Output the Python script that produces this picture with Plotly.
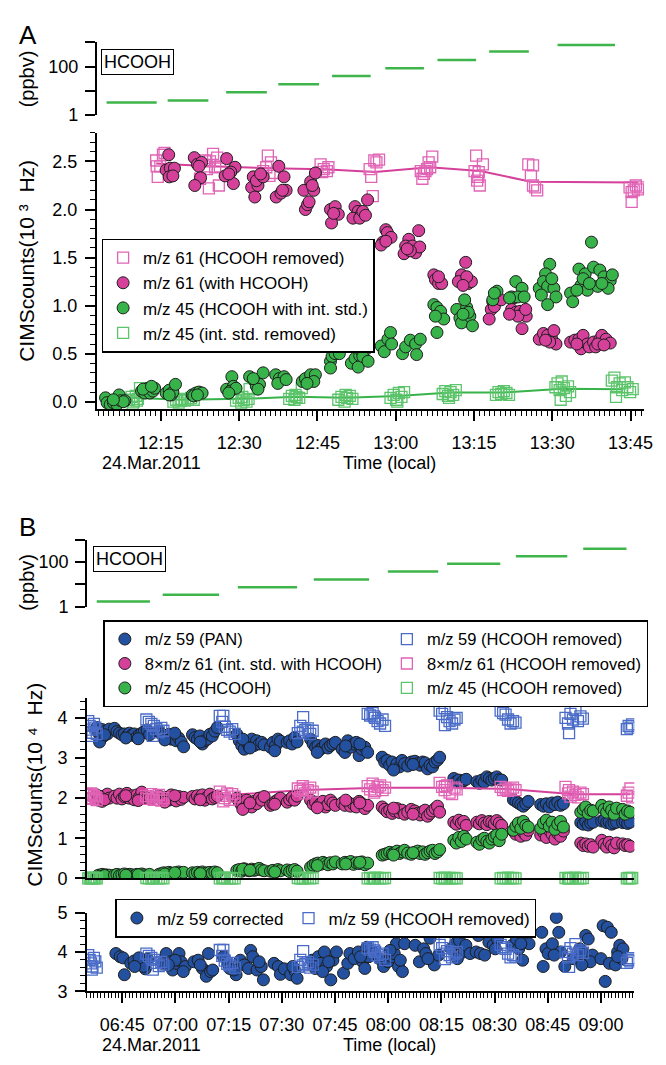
import pandas as pd
import plotly.graph_objects as go

W, H = 666, 1065
FONT = "Liberation Sans, Arial, sans-serif"

# ================= Panel A data (time in minutes after 12:00, 24 Mar 2011) =================
A_seg_start = [4.6, 16.3, 27.5, 37.5, 47.8, 58.0, 68.0, 77.9, 91.0]
A_seg_end = [14.2, 24.1, 35.3, 45.3, 55.2, 65.4, 75.4, 85.5, 102.0]
A_seg_ppbv = [3.3, 4.0, 8.6, 18.6, 40.6, 86, 186, 420, 776]

# m/z 61 (HCOOH removed): open squares + line through period means
A_m61rem_pts = [
    (14.1, 2.51), (14.4, 2.34), (14.9, 2.45), (15.4, 2.57), (15.7, 2.59), (14.2, 2.45),
    (22.5, 2.32), (23.5, 2.51), (23.8, 2.45), (24.2, 2.22), (24.4, 2.50), (25.0, 2.58),
    (25.4, 2.44), (25.8, 2.54), (26.1, 2.25), (26.3, 2.45), (23.8, 2.42),
    (34.6, 2.40), (35.2, 2.44), (35.5, 2.56), (35.8, 2.35), (36.1, 2.49), (36.6, 2.38),
    (45.6, 2.47), (45.9, 2.39), (46.2, 2.42), (46.8, 2.40), (47.1, 2.44),
    (55.0, 2.42), (55.3, 2.34), (55.6, 2.14), (55.9, 2.51), (56.3, 2.49), (56.8, 2.52),
    (64.8, 2.40), (65.1, 2.32), (65.4, 2.37), (65.7, 2.40), (66.0, 2.42), (66.3, 2.49),
    (66.6, 2.44), (67.0, 2.55),
    (75.1, 2.40), (75.4, 2.56), (75.6, 2.30), (75.8, 2.34), (75.9, 2.39), (76.1, 2.25), (76.7, 2.47),
    (85.4, 2.47), (85.9, 2.35), (86.3, 2.46), (86.3, 2.25), (86.7, 2.23), (87.1, 2.20),
    (104.8, 2.23), (105.2, 2.08), (105.2, 2.18), (105.6, 2.20), (106.0, 2.25), (106.4, 2.21), (106.8, 2.23),
]
A_m61line_t = [14.1, 24.5, 35.8, 46.3, 56.0, 66.5, 76.2, 85.9, 106.4]
A_m61line_v = [2.48, 2.45, 2.43, 2.42, 2.39, 2.44, 2.40, 2.29, 2.28]

# m/z 61 (with HCOOH): filled circles
A_m61_pts = [
    (16.5, 2.57), (16.0, 2.41), (16.8, 2.43), (17.6, 2.43), (16.6, 2.34), (17.3, 2.35),
    (21.4, 2.54), (22.0, 2.47), (22.8, 2.49), (22.3, 2.45), (22.6, 2.33), (21.5, 2.25),
    (27.6, 2.53), (29.2, 2.44), (28.4, 2.39), (27.3, 2.35), (28.9, 2.27), (28.0, 2.37),
    (32.7, 2.34), (32.4, 2.23), (33.0, 2.13), (33.6, 2.25), (33.3, 2.30), (34.6, 2.34), (34.1, 2.37),
    (37.6, 2.45), (38.6, 2.34), (37.1, 2.13), (38.0, 2.17), (39.0, 2.20), (38.3, 2.20),
    (42.4, 2.20), (42.7, 2.00), (43.1, 2.05), (43.4, 2.08), (43.7, 2.29), (44.3, 2.20), (44.6, 2.38), (44.0, 2.25),
    (47.5, 2.00), (48.4, 2.03), (49.0, 1.95), (47.7, 1.86), (48.1, 1.96),
    (52.2, 2.03), (52.8, 1.98), (51.8, 1.91), (53.4, 1.95), (53.1, 1.91), (53.7, 1.98), (54.6, 2.10), (54.2, 1.94),
    (58.1, 1.79), (58.4, 1.76), (59.1, 1.71), (57.5, 1.66), (57.2, 1.63), (58.1, 1.67),
    (64.4, 1.78), (62.5, 1.69), (61.9, 1.62), (61.6, 1.54), (63.2, 1.62), (63.8, 1.55), (64.6, 1.61), (62.8, 1.57), (62.2, 1.59),
    (67.3, 1.32), (67.6, 1.27), (68.2, 1.23), (68.8, 1.23), (68.2, 1.30),
    (73.4, 1.45), (72.6, 1.32), (72.0, 1.25), (73.9, 1.23), (74.5, 1.25), (73.6, 1.30), (72.9, 1.21),
    (78.6, 1.04), (79.2, 1.04), (78.3, 0.96), (77.9, 0.86), (78.9, 0.99), (80.2, 1.06),
    (82.6, 1.08), (82.2, 0.96), (83.0, 0.93), (83.8, 0.94), (84.6, 0.93), (85.0, 0.89), (84.2, 0.76),
    (83.4, 0.89), (81.8, 0.91), (84.9, 0.96),
    (87.5, 0.65), (88.3, 0.71), (89.1, 0.69), (89.9, 0.65), (90.3, 0.74), (90.7, 0.60), (89.5, 0.62), (88.7, 0.64),
    (93.5, 0.62), (94.3, 0.64), (95.1, 0.65), (95.9, 0.69), (95.5, 0.55), (96.7, 0.60), (97.1, 0.57),
    (97.9, 0.62), (98.3, 0.57), (99.1, 0.65), (99.5, 0.69), (100.3, 0.65), (101.1, 0.61), (94.7, 0.60),
    (98.7, 0.60), (99.9, 0.59),
]

# m/z 45 (HCOOH with int. std.): filled circles
A_m45_pts = [
    (4.4, 0.04), (4.7, -0.01), (5.3, -0.03), (5.9, -0.01), (6.6, -0.03), (7.0, 0.07), (7.3, 0.01), (8.1, 0.01), (7.8, 0.0), (5.9, 0.02),
    (11.3, 0.11), (11.9, 0.09), (12.5, 0.14), (12.9, 0.09), (13.5, 0.11), (13.8, 0.14), (11.6, 0.13), (13.2, 0.16),
    (16.0, 0.09), (16.6, 0.12), (17.0, 0.07), (17.3, 0.10), (17.8, 0.18), (16.6, 0.07),
    (21.0, 0.07), (21.7, 0.09), (22.3, 0.10), (22.9, 0.09), (21.3, 0.06), (22.0, 0.07),
    (27.6, 0.13), (28.6, 0.26), (28.9, 0.16), (28.3, 0.11), (29.4, 0.14), (28.0, 0.09),
    (32.0, 0.26), (33.0, 0.21), (33.3, 0.16), (33.9, 0.18), (34.6, 0.30), (33.6, 0.13), (32.7, 0.24),
    (37.0, 0.28), (37.7, 0.24), (38.6, 0.26), (37.4, 0.19), (39.0, 0.23),
    (42.1, 0.21), (42.7, 0.24), (43.7, 0.28), (44.6, 0.28), (44.3, 0.21), (43.0, 0.19),
    (47.5, 0.42), (47.8, 0.47), (48.4, 0.50), (49.2, 0.50), (47.5, 0.35),
    (51.5, 0.40), (52.2, 0.45), (53.1, 0.48), (52.8, 0.36), (53.4, 0.53), (54.4, 0.55), (53.7, 0.47), (54.7, 0.42),
    (57.2, 0.58), (57.8, 0.52), (58.5, 0.65), (59.0, 0.72), (59.2, 0.60),
    (61.3, 0.50), (61.9, 0.57), (62.8, 0.64), (63.8, 0.60), (64.7, 0.65), (64.0, 0.49),
    (67.3, 1.01), (67.9, 0.98), (68.6, 0.94), (69.2, 0.86), (67.6, 0.89), (67.9, 0.72),
    (71.7, 0.96), (72.3, 0.87), (72.6, 0.82), (73.6, 0.98), (73.2, 1.06), (74.2, 0.89), (74.7, 0.79), (73.9, 0.93), (72.9, 0.91),
    (79.4, 1.15), (78.6, 1.06), (78.9, 1.13),
    (83.0, 1.25), (84.2, 1.18), (82.2, 1.09), (83.4, 1.09), (84.6, 1.09), (81.8, 1.08),
    (89.5, 1.43), (88.7, 1.33), (87.5, 1.18), (88.3, 1.25), (89.1, 1.20), (90.3, 1.18), (87.9, 1.11), (90.7, 1.09), (89.1, 1.01), (89.9, 1.28),
    (97.5, 1.66), (93.5, 1.13), (93.9, 1.04), (95.1, 1.38), (95.5, 1.21), (96.3, 1.33), (96.7, 1.16), (95.9, 1.28),
    (97.9, 1.40), (98.7, 1.20), (99.1, 1.37), (99.9, 1.30), (100.3, 1.21), (101.1, 1.26), (101.5, 1.32),
    (100.7, 1.18), (97.1, 1.23), (94.7, 1.16), (99.5, 1.23),
]

# m/z 45 (int. std. removed): open squares + line
A_m45rem_pts = [
    (8.9, 0.02), (9.4, 0.05), (9.8, 0.0), (10.2, 0.06), (10.6, 0.03), (11.0, 0.14), (9.6, -0.02), (10.4, 0.01),
    (17.4, 0.0), (17.9, 0.02), (18.4, -0.01), (19.0, 0.03), (19.6, 0.01), (20.2, 0.02), (20.8, 0.04), (21.3, 0.02), (18.8, 0.01),
    (29.4, 0.01), (29.9, 0.04), (30.4, -0.01), (30.9, 0.02), (31.4, 0.0), (32.0, 0.13), (31.8, 0.03), (30.6, 0.05),
    (39.6, 0.03), (40.1, 0.06), (40.6, 0.02), (41.0, 0.05), (41.5, 0.04), (42.0, 0.14), (40.8, 0.07),
    (49.0, 0.02), (49.6, 0.05), (50.2, 0.0), (50.7, 0.04), (51.2, 0.06), (51.7, 0.03), (50.4, 0.07),
    (59.0, 0.04), (59.6, 0.07), (60.1, 0.02), (60.6, 0.09), (61.1, 0.05), (61.6, 0.10), (60.3, 0.0),
    (69.0, 0.08), (69.5, 0.11), (70.0, 0.06), (70.5, 0.10), (71.0, 0.07), (71.5, 0.12), (70.2, 0.04),
    (79.2, 0.07), (79.7, 0.10), (80.2, 0.08), (80.7, 0.11), (81.2, 0.09), (81.7, 0.07),
    (90.6, 0.15), (91.0, 0.19), (91.4, 0.12), (91.8, 0.21), (92.2, 0.14), (92.6, 0.06), (93.0, 0.16), (93.4, 0.10), (91.6, 0.02),
    (101.4, 0.22), (101.9, 0.25), (102.4, 0.15), (102.9, 0.19), (103.4, 0.12), (103.9, 0.20), (104.4, 0.15),
    (104.9, 0.10), (105.4, 0.13), (102.2, 0.05),
]
A_m45line_t = [9.3, 19.0, 30.7, 40.8, 50.4, 60.4, 70.5, 80.6, 91.9, 103.6]
A_m45line_v = [0.04, 0.02, 0.03, 0.05, 0.04, 0.06, 0.095, 0.095, 0.135, 0.13]

# ================= Panel B data (time in minutes after 06:00, 24 Mar 2011) =================
B_seg_start = [37.8, 56.4, 77.6, 99.0, 119.9, 136.6, 156.0, 175.0]
B_seg_end = [52.8, 72.3, 94.3, 114.6, 134.1, 151.6, 170.5, 187.2]
B_seg_ppbv = [1.7, 3.4, 7.4, 16.6, 37.4, 85, 183, 400]

# times of the ambient (with HCOOH) samples, shared by m/z 59, 8*m/z 61 and m/z 45
B_t = [
    37.8, 38.3, 38.8, 39.3, 39.8, 40.3, 40.8, 41.3, 38.6, 40.0,
    42.8, 43.5, 44.2, 44.9, 45.6, 46.3, 47.0, 47.7, 48.4, 49.1, 49.8, 50.5, 51.2, 52.0, 52.7, 46.0, 49.5,
    55.3, 56.0, 56.7, 57.4, 58.1, 58.8, 59.5, 60.2, 60.9, 61.6, 62.3, 57.0, 59.8,
    64.8, 65.5, 66.2, 66.9, 67.6, 68.3, 69.0, 69.7, 70.4, 71.1, 71.8, 67.0,
    77.3, 78.0, 78.7, 79.4, 80.1, 80.8, 81.5, 82.2, 82.9, 83.6, 84.3, 85.0, 79.0, 81.0,
    86.8, 87.5, 88.2, 88.9, 89.6, 91.5, 92.2, 92.9, 93.6, 94.3, 88.0,
    98.1, 98.8, 99.5, 100.2, 100.9, 101.6, 102.3, 103.0, 103.7, 104.4, 105.1, 100.0,
    107.0, 107.8, 108.6, 109.4, 110.2, 111.0, 111.8, 112.6, 113.4, 114.2, 108.0, 112.0,
    118.3, 119.0, 119.7, 120.4, 121.1, 121.8, 122.5, 123.2, 123.9, 124.6, 125.5, 126.5, 127.5,
    128.3, 129.0, 129.7, 130.4, 131.1, 131.8, 132.5, 133.2, 133.9, 134.5, 121.5, 127.0,
    138.5, 139.2, 139.9, 140.6, 141.3, 142.0, 145.0, 145.7, 146.4, 147.1, 147.8, 148.5, 149.2, 149.9, 150.6, 151.3, 152.0,
    155.3, 156.0, 156.7, 157.4, 158.1, 158.8, 159.5,
    163.0, 163.8, 164.6, 165.4, 166.2, 167.0, 167.8, 168.6, 169.4,
    174.3, 175.0, 175.7, 176.4, 177.1, 177.8,
    180.2, 180.9, 181.6, 182.3, 183.0, 183.7, 184.4,
    186.1, 186.8, 187.5, 188.2,
]
B_m59 = [
    3.76, 3.63, 3.47, 3.71, 3.55, 3.67, 3.60, 3.72, 3.40, 3.58,
    3.74, 3.66, 3.62, 3.58, 3.60, 3.55, 3.62, 3.57, 3.60, 3.52, 3.58, 3.62, 3.66, 3.70, 3.58, 3.50, 3.48,
    3.67, 3.60, 3.55, 3.51, 3.59, 3.47, 3.55, 3.43, 3.50, 3.40, 3.28, 3.45, 3.62,
    3.58, 3.51, 3.47, 3.55, 3.35, 3.43, 3.47, 3.59, 3.55, 3.67, 3.76, 3.40,
    3.59, 3.43, 3.31, 3.22, 3.39, 3.27, 3.47, 3.31, 3.43, 3.35, 3.39, 3.33, 3.47, 3.25,
    3.27, 3.39, 3.30, 3.47, 3.42, 3.39, 3.43, 3.35, 3.51, 3.40, 3.18,
    3.47, 3.35, 3.27, 3.31, 3.22, 3.27, 3.35, 3.25, 3.31, 3.35, 3.39, 3.14,
    3.22, 3.14, 3.43, 3.27, 3.35, 3.39, 3.06, 3.22, 3.27, 3.14, 3.30, 3.35,
    3.02, 2.90, 2.94, 2.82, 2.90, 2.73, 2.86, 2.78, 2.94, 2.86, 2.80, 2.90, 2.92,
    2.86, 2.82, 2.90, 2.88, 2.73, 2.82, 2.78, 2.90, 2.95, 3.02, 2.70, 2.84,
    2.49, 2.41, 2.45, 2.38, 2.44, 2.47, 2.41, 2.37, 2.45, 2.40, 2.53, 2.49, 2.45, 2.49, 2.53, 2.46, 2.45,
    1.96, 1.92, 1.88, 1.84, 1.80, 1.86, 1.92,
    1.84, 1.80, 1.86, 1.78, 1.88, 1.84, 1.90, 1.82, 1.86,
    1.39, 1.35, 1.41, 1.33, 1.38, 1.40,
    1.43, 1.45, 1.39, 1.41, 1.35, 1.38, 1.40,
    1.39, 1.41, 1.37, 1.40,
]
B_m61x8 = [
    2.08, 1.95, 2.02, 1.92, 2.05, 1.98, 2.10, 2.00, 2.04, 1.96,
    2.05, 2.00, 2.10, 1.98, 2.04, 2.12, 2.00, 2.06, 1.96, 2.08, 2.02, 2.15, 2.04, 2.00, 1.98, 2.06, 1.94,
    2.06, 1.98, 1.92, 2.02, 1.95, 2.08, 2.00, 1.93, 2.04, 1.97, 2.02, 1.90, 2.06,
    2.04, 1.98, 2.06, 2.00, 2.08, 1.95, 2.03, 2.10, 1.98, 2.02, 2.05, 1.96,
    2.00, 1.90, 1.82, 1.76, 1.95, 1.85, 1.78, 1.92, 1.86, 2.00, 1.95, 2.04, 1.72, 1.88,
    1.82, 1.86, 1.92, 1.96, 2.00, 1.90, 1.96, 2.02, 1.95, 2.05, 1.85,
    1.95, 1.85, 1.90, 1.80, 1.86, 1.92, 1.78, 1.84, 1.95, 1.88, 1.82, 1.76,
    1.88, 1.82, 1.90, 1.80, 1.85, 1.78, 1.92, 1.86, 1.74, 1.82, 1.95, 1.88,
    1.78, 1.72, 1.66, 1.70, 1.62, 1.68, 1.74, 1.64, 1.70, 1.60, 1.65, 1.72, 1.68,
    1.62, 1.58, 1.66, 1.70, 1.55, 1.62, 1.68, 1.74, 1.80, 1.65, 1.75, 1.60,
    1.40, 1.35, 1.45, 1.38, 1.42, 1.32, 1.40, 1.36, 1.44, 1.38, 1.34, 1.42, 1.40, 1.36, 1.44, 1.38, 1.32,
    1.18, 1.10, 1.25, 1.05, 1.15, 1.08, 1.20,
    1.08, 1.15, 1.02, 1.20, 1.10, 0.98, 1.12, 1.05, 1.18,
    0.88, 0.82, 0.86, 0.80, 0.84, 0.78,
    0.95, 0.85, 0.78, 0.90, 0.82, 0.76, 0.88,
    0.86, 0.82, 0.84, 0.80,
]
B_m45 = [
    0.05, 0.08, 0.06, 0.10, 0.07, 0.09, 0.06, 0.08, 0.05, 0.07,
    0.08, 0.10, 0.07, 0.09, 0.11, 0.08, 0.10, 0.09, 0.07, 0.10, 0.08, 0.11, 0.09, 0.07, 0.10, 0.08, 0.09,
    0.10, 0.12, 0.14, 0.11, 0.15, 0.13, 0.12, 0.14, 0.16, 0.13, 0.15, 0.11, 0.14,
    0.14, 0.12, 0.15, 0.13, 0.16, 0.12, 0.14, 0.15, 0.13, 0.16, 0.14, 0.12,
    0.20, 0.22, 0.18, 0.24, 0.21, 0.19, 0.23, 0.20, 0.22, 0.25, 0.21, 0.19, 0.23, 0.20,
    0.18, 0.20, 0.16, 0.22, 0.19, 0.21, 0.17, 0.20, 0.22, 0.18, 0.16,
    0.28, 0.33, 0.36, 0.38, 0.35, 0.40, 0.37, 0.34, 0.39, 0.36, 0.41, 0.32,
    0.36, 0.40, 0.38, 0.42, 0.35, 0.39, 0.37, 0.41, 0.34, 0.38, 0.36, 0.40,
    0.58, 0.60, 0.62, 0.65, 0.61, 0.64, 0.68, 0.62, 0.66, 0.70, 0.63, 0.60, 0.65,
    0.68, 0.62, 0.66, 0.60, 0.64, 0.68, 0.70, 0.62, 0.66, 0.72, 0.58, 0.64,
    0.95, 0.88, 1.02, 0.92, 1.05, 0.98, 0.90, 0.85, 0.96, 1.00, 0.92, 0.88, 0.98, 1.04, 1.08, 0.94, 1.10,
    1.20, 1.30, 1.38, 1.25, 1.42, 1.32, 1.28,
    1.25, 1.38, 1.45, 1.30, 1.40, 1.22, 1.35, 1.42, 1.28,
    1.65, 1.72, 1.78, 1.62, 1.70, 1.68,
    1.82, 1.72, 1.65, 1.78, 1.70, 1.60, 1.75,
    1.72, 1.60, 1.68, 1.65,
]

# times of the zero-air (HCOOH removed) samples
B_rem_t = [
    35.4, 35.8, 36.2, 36.6, 37.0, 37.4, 37.8, 36.4,
    51.8, 52.5, 53.2, 53.9, 54.6, 55.3, 56.0, 56.6, 53.6,
    72.5, 73.2, 73.9, 74.6, 75.3, 76.0, 76.7, 73.5,
    94.5, 95.2, 95.9, 96.6, 97.3, 98.0, 98.7, 96.0,
    114.2, 114.9, 115.6, 116.3, 117.0, 117.7, 118.4, 119.1, 116.0,
    134.5, 135.2, 135.9, 136.6, 137.3, 138.0, 138.7, 139.3, 136.0,
    151.7, 152.4, 153.1, 153.8, 154.5, 155.2, 155.9,
    170.0, 170.7, 171.4, 172.1, 172.8, 173.5, 174.2, 174.9, 171.0,
    187.3, 187.8, 188.3, 188.8,
]
B_m59_rem = [
    3.92, 3.80, 3.71, 3.63, 3.85, 3.76, 3.60, 3.55,
    3.96, 3.90, 3.85, 3.80, 3.72, 3.64, 3.75, 3.68, 3.55,
    4.05, 3.90, 3.78, 3.70, 3.66, 3.72, 3.60, 4.05,
    3.62, 3.80, 3.66, 3.70, 3.74, 3.60, 3.68, 4.02,
    4.10, 4.06, 4.12, 4.00, 3.92, 3.86, 3.96, 3.80, 4.04,
    4.18, 4.10, 4.24, 4.02, 3.92, 3.86, 3.96, 4.00, 3.82,
    4.18, 4.12, 4.08, 3.96, 3.86, 3.92, 3.88,
    4.00, 3.86, 4.10, 3.96, 4.20, 3.92, 4.04, 3.98, 3.62,
    3.72, 3.80, 3.76, 3.84,
]
B_m61x8_rem = [
    2.10, 2.00, 2.12, 1.98, 2.06, 2.02, 1.95, 2.08,
    2.05, 1.98, 2.10, 1.96, 2.04, 2.08, 1.94, 2.00, 2.02,
    2.16, 2.06, 2.00, 2.12, 1.96, 2.10, 2.04, 1.92,
    2.24, 2.18, 2.30, 2.12, 2.20, 2.26, 2.16, 2.22,
    2.30, 2.22, 2.36, 2.18, 2.28, 2.32, 2.20, 2.26, 2.14,
    2.38, 2.28, 2.20, 2.32, 2.14, 2.10, 2.26, 2.22, 2.30,
    2.28, 2.20, 2.24, 2.18, 2.22, 2.26, 2.20,
    2.28, 2.12, 2.04, 2.16, 2.08, 2.02, 2.14, 2.10, 2.20,
    2.06, 2.14, 2.24, 2.02,
]
B_m45_rem = [
    0.0, 0.01, 0.0, 0.02, 0.0, 0.01, 0.0, 0.01,
    0.01, 0.0, 0.0, 0.02, 0.01, 0.0, 0.01, 0.0, 0.0,
    0.0, 0.01, 0.02, 0.0, 0.01, 0.0, 0.0, 0.01,
    0.01, 0.0, 0.0, 0.01, 0.02, 0.0, 0.01, 0.0,
    0.0, 0.01, 0.0, 0.02, 0.01, 0.0, 0.0, 0.01, 0.0,
    0.01, 0.0, 0.02, 0.0, 0.01, 0.0, 0.01, 0.0, 0.0,
    0.0, 0.01, 0.0, 0.02, 0.0, 0.01, 0.0,
    0.01, 0.0, 0.01, 0.0, 0.02, 0.0, 0.0, 0.01, 0.0,
    0.0, 0.01, 0.0, 0.01,
]
B_m61line_t = [36.6, 54.2, 74.7, 96.6, 117.0, 136.8, 153.8, 172.5, 188.2]
B_m61line_v = [2.04, 2.02, 2.08, 2.20, 2.26, 2.26, 2.23, 2.10, 2.10]

# m/z 59 corrected (bottom panel)
B_m59corr_pts = [
    (43.2, 3.96), (44.4, 3.88), (45.2, 3.85), (45.6, 3.42), (47.4, 3.71), (48.3, 3.77), (49.1, 3.67),
    (50.3, 3.75), (51.5, 3.57), (52.1, 3.82), (51.0, 3.63), (49.7, 3.85), (48.5, 3.63),
    (56.3, 3.71), (57.4, 3.96), (58.6, 3.75), (59.2, 3.54), (60.4, 3.71), (61.0, 3.96), (61.6, 3.75),
    (62.8, 3.63), (59.9, 3.79), (58.0, 3.67), (62.2, 3.50),
    (65.2, 3.75), (66.4, 3.79), (67.6, 3.58), (68.7, 3.38), (69.9, 3.50), (70.5, 3.54), (69.3, 3.96), (67.0, 3.67),
    (73.5, 3.88), (74.7, 3.71), (75.3, 3.58), (77.1, 3.42), (78.3, 3.79), (79.4, 3.67), (80.6, 3.58),
    (81.2, 4.04), (81.8, 3.88), (76.5, 3.54),
    (83.0, 3.54), (84.2, 3.63), (84.8, 3.29), (83.6, 3.75),
    (87.8, 3.71), (89.0, 3.63), (89.6, 3.43), (90.7, 3.57), (92.5, 3.42), (93.7, 3.52), (94.3, 3.33), (93.1, 3.63),
    (98.5, 3.79), (99.4, 3.58), (100.3, 3.88), (101.1, 3.71), (102.0, 4.00), (102.6, 3.63), (103.8, 3.29),
    (104.4, 3.79), (105.4, 4.00), (101.5, 3.50), (103.2, 3.75),
    (107.4, 3.46), (108.6, 3.71), (109.2, 3.96), (110.4, 3.83), (111.6, 4.00), (112.8, 3.75), (113.4, 3.58),
    (114.0, 4.12), (114.5, 3.88), (112.2, 3.88),
    (115.7, 4.00), (117.5, 3.83), (118.7, 3.63), (119.9, 3.75), (121.1, 3.88), (121.7, 3.96), (122.3, 4.21),
    (122.9, 3.63), (124.0, 3.50), (124.6, 4.21), (123.4, 3.79), (120.5, 4.04),
    (127.6, 4.17), (128.8, 3.75), (130.0, 4.08), (130.6, 3.96), (131.8, 4.35), (133.0, 3.67), (134.2, 3.92), (131.2, 3.83),
    (137.7, 4.08), (138.9, 4.21), (140.1, 4.29), (140.7, 4.50), (141.3, 4.00), (139.5, 3.83), (141.9, 4.17), (143.1, 3.96),
    (144.8, 4.00), (145.4, 4.42), (146.0, 3.96), (148.4, 4.25), (149.6, 4.17), (150.8, 4.33), (150.2, 4.08), (147.2, 3.92),
    (155.0, 4.17), (156.2, 4.33), (156.8, 4.08), (157.9, 3.79), (158.5, 4.33), (159.1, 4.46), (159.7, 4.21), (157.4, 4.21),
    (163.3, 4.50), (163.7, 3.63), (164.5, 4.08), (165.1, 3.96), (166.3, 4.21), (167.4, 4.88), (168.1, 4.50),
    (168.6, 4.00), (169.8, 3.63), (166.8, 3.92),
    (172.2, 3.83), (174.0, 4.08), (175.2, 3.96), (175.7, 4.42), (176.4, 4.33), (177.6, 3.92), (177.0, 3.75), (174.6, 3.67),
    (180.0, 3.83), (180.6, 4.67), (181.2, 3.25), (181.8, 4.63), (182.4, 3.71), (182.9, 4.50), (184.1, 3.67),
    (184.7, 4.00), (185.3, 4.17), (185.9, 3.83), (186.2, 4.08), (184.7, 3.88),
]

# ================= helpers =================
BASE_A = pd.Timestamp("2011-03-24 12:00:00")
BASE_B = pd.Timestamp("2011-03-24 06:00:00")


def tA(m):
    return BASE_A + pd.to_timedelta(m, unit="min")


def tB(m):
    return BASE_B + pd.to_timedelta(m, unit="min")


def segs(base_fn, starts, ends, vals):
    xs, ys = [], []
    for s, e, v in zip(starts, ends, vals):
        xs += [base_fn(s), base_fn(e), None]
        ys += [v, v, None]
    return xs, ys


def px_x(p):
    return p / W


def px_y(p):
    return 1 - p / H


PINK = "#d5409a"
PINK_SQ = "#e163b5"
GREEN = "#37b34a"
GREEN_SQ = "#5cc46a"
BLUE = "#23509f"
BLUE_SQ = "#4a6cc8"
SEG_GREEN = "#3db54a"
EDGE = "#1e1e1e"

circle = lambda c: dict(symbol="circle", size=12, color=c, line=dict(color=EDGE, width=1))
square = lambda c: dict(symbol="square-open", size=11, color=c, line=dict(color=c, width=1.3))

fig = go.Figure()

# ---- Panel A top (ppbv) ----
sx, sy = segs(tA, A_seg_start, A_seg_end, A_seg_ppbv)
fig.add_trace(go.Scatter(x=sx, y=sy, mode="lines", line=dict(color=SEG_GREEN, width=2.5),
                         xaxis="x", yaxis="y", showlegend=False, hoverinfo="skip"))

# ---- Panel A main ----
fig.add_trace(go.Scatter(x=tA(A_m61line_t), y=A_m61line_v, mode="lines",
                         line=dict(color=PINK, width=2), xaxis="x2", yaxis="y2", showlegend=False))
fig.add_trace(go.Scatter(x=tA([p[0] for p in A_m61rem_pts]), y=[p[1] for p in A_m61rem_pts],
                         mode="markers", marker=square(PINK_SQ), name="m/z 61 (HCOOH removed)",
                         xaxis="x2", yaxis="y2", legend="legend", legendrank=1))
fig.add_trace(go.Scatter(x=tA(A_m45line_t), y=A_m45line_v, mode="lines",
                         line=dict(color=GREEN, width=2), xaxis="x2", yaxis="y2", showlegend=False))
fig.add_trace(go.Scatter(x=tA([p[0] for p in A_m45rem_pts]), y=[p[1] for p in A_m45rem_pts],
                         mode="markers", marker=square(GREEN_SQ), name="m/z 45 (int. std. removed)",
                         xaxis="x2", yaxis="y2", legend="legend", legendrank=4))
fig.add_trace(go.Scatter(x=tA([p[0] for p in A_m61_pts]), y=[p[1] for p in A_m61_pts],
                         mode="markers", marker=circle(PINK), name="m/z 61 (with HCOOH)",
                         xaxis="x2", yaxis="y2", legend="legend", legendrank=2))
fig.add_trace(go.Scatter(x=tA([p[0] for p in A_m45_pts]), y=[p[1] for p in A_m45_pts],
                         mode="markers", marker=circle(GREEN), name="m/z 45 (HCOOH with int. std.)",
                         xaxis="x2", yaxis="y2", legend="legend", legendrank=3))

# ---- Panel B top (ppbv) ----
sx, sy = segs(tB, B_seg_start, B_seg_end, B_seg_ppbv)
fig.add_trace(go.Scatter(x=sx, y=sy, mode="lines", line=dict(color=SEG_GREEN, width=2.5),
                         xaxis="x3", yaxis="y3", showlegend=False, hoverinfo="skip"))

# ---- Panel B main ----
fig.add_trace(go.Scatter(x=tB(B_t), y=B_m59, mode="markers", marker=circle(BLUE),
                         name="m/z 59 (PAN)", xaxis="x4", yaxis="y4", legend="legend2", legendrank=1))
fig.add_trace(go.Scatter(x=tB(B_rem_t), y=B_m59_rem, mode="markers", marker=square(BLUE_SQ),
                         name="m/z 59 (HCOOH removed)", xaxis="x4", yaxis="y4", legend="legend2", legendrank=2))
fig.add_trace(go.Scatter(x=tB(B_m61line_t), y=B_m61line_v, mode="lines",
                         line=dict(color=PINK, width=2), xaxis="x4", yaxis="y4", showlegend=False))
fig.add_trace(go.Scatter(x=tB(B_t), y=B_m61x8, mode="markers", marker=circle(PINK),
                         name="8×m/z 61 (int. std. with HCOOH)", xaxis="x4", yaxis="y4",
                         legend="legend2", legendrank=3))
fig.add_trace(go.Scatter(x=tB(B_rem_t), y=B_m61x8_rem, mode="markers", marker=square(PINK_SQ),
                         name="8×m/z 61 (HCOOH removed)", xaxis="x4", yaxis="y4",
                         legend="legend2", legendrank=4))
fig.add_trace(go.Scatter(x=tB(B_t), y=B_m45, mode="markers", marker=circle(GREEN),
                         name="m/z 45 (HCOOH)", xaxis="x4", yaxis="y4", legend="legend2", legendrank=5))
fig.add_trace(go.Scatter(x=tB(B_rem_t), y=B_m45_rem, mode="markers", marker=square(GREEN_SQ),
                         name="m/z 45 (HCOOH removed)", xaxis="x4", yaxis="y4", cliponaxis=False,
                         legend="legend2", legendrank=6))

# ---- Panel B bottom ----
fig.add_trace(go.Scatter(x=tB([p[0] for p in B_m59corr_pts]), y=[p[1] for p in B_m59corr_pts],
                         mode="markers", marker=circle(BLUE), name="m/z 59 corrected",
                         xaxis="x5", yaxis="y5", legend="legend3", legendrank=1))
fig.add_trace(go.Scatter(x=tB(B_rem_t), y=B_m59_rem, mode="markers", marker=square(BLUE_SQ),
                         name="m/z 59 (HCOOH removed)", xaxis="x5", yaxis="y5",
                         legend="legend3", legendrank=2))

# ================= layout =================
TICKF = dict(family=FONT, size=18, color="black")
AX = dict(showgrid=False, zeroline=False, showline=True, linecolor="black", linewidth=1.5,
          ticks="outside", tickcolor="black", tickwidth=1.5, tickfont=TICKF)
A_dom = [px_x(98), px_x(653)]
B_dom = [px_x(88), px_x(643)]


def logax(dom):
    return dict(AX, domain=dom, type="log", range=[0, 3], tickvals=[1, 100],
                ticktext=["1", "100"], ticklen=10, ticklabelstandoff=3,
                minor=dict(tickvals=[10, 1000], ticks="outside", ticklen=10, tickwidth=1.5,
                           tickcolor="black"))


def dateax(dom, anchor, base, r0, r1):
    return dict(AX, domain=dom, anchor=anchor, type="date",
                range=[str(base + pd.Timedelta(minutes=r0)), str(base + pd.Timedelta(minutes=r1))],
                tick0=str(base), dtick=15 * 60000, tickformat="%H:%M", ticklen=10,
                ticklabelstandoff=6,
                minor=dict(dtick=60000, ticks="outside", ticklen=5, tickwidth=1, tickcolor="black"))


fig.update_layout(
    width=W, height=H, autosize=False,
    margin=dict(l=0, r=0, t=0, b=0),
    paper_bgcolor="white", plot_bgcolor="white",
    font=dict(family=FONT, size=17, color="black"),
    # Panel A
    xaxis=dict(domain=A_dom, anchor="y", matches="x2", visible=False),
    yaxis=dict(logax([px_y(107), px_y(33)]), anchor="x"),
    xaxis2=dateax(A_dom, "y2", BASE_A, 2.7, 107.6),
    yaxis2=dict(AX, domain=[px_y(407), px_y(125)], anchor="x2", range=[-0.08, 2.8],
                tick0=0, dtick=0.5, tickformat=".1f", ticklen=10, ticklabelstandoff=4,
                minor=dict(dtick=0.1, ticks="outside", ticklen=5, tickwidth=1, tickcolor="black")),
    # Panel B
    xaxis3=dict(domain=B_dom, anchor="y3", matches="x5", visible=False),
    yaxis3=dict(logax([px_y(608), px_y(540)]), anchor="x3"),
    xaxis4=dict(domain=B_dom, anchor="y4", matches="x5", showgrid=False, zeroline=False,
                showline=True, linecolor="black", linewidth=1.5, ticks="", showticklabels=False),
    yaxis4=dict(AX, domain=[px_y(885), px_y(701)], anchor="x4", range=[0, 4.5],
                tick0=0, dtick=1, ticklen=10, ticklabelstandoff=4,
                minor=dict(dtick=0.2, ticks="outside", ticklen=5, tickwidth=1, tickcolor="black")),
    xaxis5=dateax(B_dom, "y5", BASE_B, 35.0, 189.4),
    yaxis5=dict(AX, domain=[px_y(1000), px_y(920)], anchor="x5", range=[3, 5],
                tick0=3, dtick=1, ticklen=10, ticklabelstandoff=4,
                minor=dict(dtick=0.2, ticks="outside", ticklen=5, tickwidth=1, tickcolor="black")),
    legend=dict(x=px_x(103), y=px_y(233), xanchor="left", yanchor="top",
                bgcolor="white", bordercolor="black", borderwidth=1.5,
                font=dict(family=FONT, size=17), tracegroupgap=0, itemwidth=30),
    legend2=dict(x=px_x(381), y=px_y(622), xanchor="center", yanchor="top", orientation="h",
                 bgcolor="white", bordercolor="black", borderwidth=1.5,
                 font=dict(family=FONT, size=16.5), itemwidth=30),
    legend3=dict(x=px_x(117), y=px_y(906), xanchor="left", yanchor="top", orientation="h",
                 bgcolor="white", bordercolor="black", borderwidth=1.5,
                 font=dict(family=FONT, size=17), itemwidth=30),
)

ann = []


def note(text, xp, yp, size=18, angle=0, **kw):
    ann.append(dict(text=text, x=px_x(xp), y=px_y(yp), xref="paper", yref="paper",
                    showarrow=False, textangle=angle, xanchor="center", yanchor="middle",
                    font=dict(family=FONT, size=size, color="black"), **kw))


note("A", 28, 25, size=26)
note("B", 28, 527, size=26)
note("(ppbv)", 27, 70, size=20, angle=-90)
note("(ppbv)", 27, 583, size=20, angle=-90)
note("CIMScounts(10 \u00b3  Hz)", 27, 256, size=21, angle=-90)
note("CIMScounts(10 \u2074  Hz)", 35, 790, size=21, angle=-90)
note("HCOOH", 139, 52.5, size=18, bordercolor="black", borderwidth=1, borderpad=2, bgcolor="white")
note("HCOOH", 131.5, 559, size=18, bordercolor="black", borderwidth=1, borderpad=2, bgcolor="white")
note("24.Mar.2011", 154, 462, size=18)
note("Time (local)", 395, 462, size=18)
note("24.Mar.2011", 154, 1055, size=18)
note("Time (local)", 395, 1055, size=18)
fig.update_layout(annotations=ann)

fig.write_html("out.html", config={"displayModeBar": False},
               post_script="document.body.style.margin='0px';document.body.style.padding='0px';")
